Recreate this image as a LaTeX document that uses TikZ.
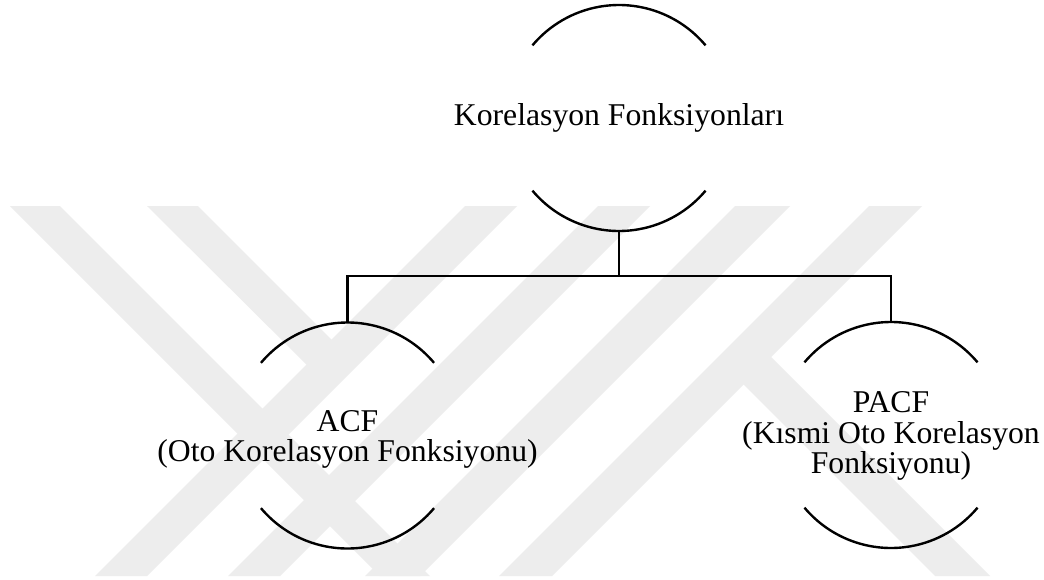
\documentclass[tikz,border=0pt]{standalone}
\usepackage{fontspec}
\setmainfont{Liberation Serif}
\usetikzlibrary{calc}

\tikzset{
  bubble/.style={circle, minimum size=226pt, inner sep=0pt, outer sep=0pt},
  label text/.style={align=center, inner sep=0pt, font=\fontsize{31.7}{30.5}\selectfont},
  outline/.style={line width=2.4pt, black},
  branch/.style={line width=2.4pt, black},
  band/.style={fill=black!7, draw=none}
}

\begin{document}
\begin{tikzpicture}[x=1pt, y=-1pt]
  % canvas
  \fill[white] (0,0) rectangle (1044,579);
  \useasboundingbox (0,0) rectangle (1044,579);

  % light diagonal bands in the background
  \fill[band] (10,206) -- (60,206) -- (430,576) -- (380,576) -- cycle;
  \fill[band] (147,206) -- (198,206) -- (335,343) -- (310,368) -- cycle;
  \fill[band] (465,206) -- (517,206) -- (147,576) -- (95,576) -- cycle;
  \fill[band] (598,206) -- (650,206) -- (280,576) -- (228,576) -- cycle;
  \fill[band] (735,206) -- (790,206) -- (420,576) -- (365,576) -- cycle;
  \fill[band] (869,206) -- (922,206) -- (552,576) -- (499,576) -- cycle;
  \fill[band] (760,346) -- (990,576) -- (935,576) -- (735,376) -- cycle;

  % nodes
  \node[bubble] (root) at (619,118) {};
  \node[bubble] (acf)  at (347.5,435.5) {};
  \node[bubble] (pacf) at (891,435) {};

  \node[label text] (rootlbl) at (root) {Korelasyon Fonksiyonları};
  \node[label text] (acflbl)  at ([yshift=-4pt]acf.center)  {ACF\\(Oto Korelasyon Fonksiyonu)};
  \node[label text] (pacflbl) at ([yshift=-1pt]pacf.center) {PACF\\(Kısmi Oto Korelasyon\\Fonksiyonu)};

  % open circle outlines: upper and lower arcs only
  \foreach \n in {root, acf, pacf} {
    \draw[outline] (\n.40) arc[start angle=40, end angle=140, radius=113pt];
    \draw[outline] (\n.220) arc[start angle=220, end angle=320, radius=113pt];
  }

  % tree connectors
  \coordinate (bar) at (619,276);
  \draw[branch] (root.south) -- (bar);
  \draw[branch] (acf.north) |- (bar) -| (pacf.north);
\end{tikzpicture}
\end{document}
